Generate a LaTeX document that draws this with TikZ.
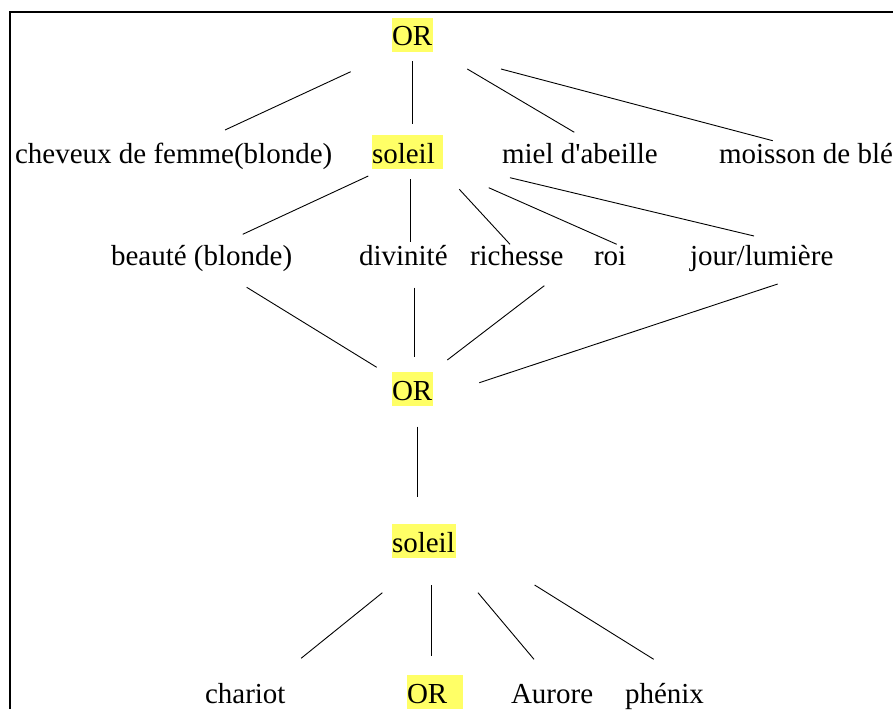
\documentclass[tikz,border=0pt]{standalone}
\usepackage{fontspec}
\setmainfont{Liberation Serif}
\definecolor{hlyellow}{RGB}{255,255,102}
\newcommand{\straightapos}{\XeTeXglyph\XeTeXcharglyph"27\relax}
\begin{document}
\begin{tikzpicture}[x=1pt,y=-1pt,
  every node/.style={inner sep=0pt,outer sep=0pt,anchor=base west,font=\fontsize{29}{34}\selectfont},
  hl/.style={fill=hlyellow,text height=28pt,text depth=6pt,align=left},
  link/.style={line width=0.9pt,black},
  frame/.style={line width=2pt,black}]
\useasboundingbox (0,0) rectangle (893,709);
\fill[white] (0,0) rectangle (893,709);
\draw[frame] (9.5,709) -- (9.5,12.5) -- (893,12.5);
% row 1
\node[hl,text width=41pt] (or1) at (392,45.7) {OR};
% row 2
\node (cheveux) at (15,163) {cheveux de femme(blonde)};
\node[hl,text width=71pt] (sol1) at (372,163) {soleil};
\node (miel) at (502,163) {miel d\straightapos abeille};
\node (moisson) at (719,163) {moisson de blé};
% row 3
\node (beaute) at (111,265) {beauté (blonde)};
\node (divinite) at (359,265) {divinité};
\node (richesse) at (470,265) {richesse};
\node (roi) at (594,265) {roi};
\node (jour) at (690,265) {jour/lumière};
% row 4
\node[hl,text width=41pt] (or2) at (392,400) {OR};
% row 5
\node[hl,text width=64pt] (sol2) at (392,552) {soleil};
% row 6
\node (chariot) at (205,703) {chariot};
\node[hl,text width=56pt] (or3) at (407,703) {OR};
\node (aurore) at (511,703) {Aurore};
\node (phenix) at (625,703) {phénix};
% connector end points
\coordinate (or1-a) at (350.7,71.7);  \coordinate (cheveux-a) at (225,130);
\coordinate (or1-b) at (412.3,61);    \coordinate (sol1-b) at (412.3,124.3);
\coordinate (or1-c) at (467.3,69);    \coordinate (miel-c) at (574.3,132.3);
\coordinate (or1-d) at (501,69);      \coordinate (moisson-d) at (772.7,140.7);
\coordinate (sol1-e) at (368.3,176);  \coordinate (beaute-e) at (242.7,234.3);
\coordinate (sol1-f) at (410,179);    \coordinate (divinite-f) at (410,241.7);
\coordinate (sol1-g) at (459.3,189.3);\coordinate (richesse-g) at (510,244.3);
\coordinate (sol1-h) at (488.7,187.7);\coordinate (roi-h) at (616.7,244.3);
\coordinate (sol1-i) at (510,177.7);  \coordinate (jour-i) at (754,236);
\coordinate (beaute-j) at (246.7,287.3);  \coordinate (or2-j) at (376.7,367.3);
\coordinate (divinite-k) at (414.3,287.7);\coordinate (or2-k) at (414.3,357.3);
\coordinate (richesse-l) at (544.3,285.7);\coordinate (or2-l) at (447.3,360);
\coordinate (jour-m) at (777.7,284);      \coordinate (or2-m) at (479.3,382.7);
\coordinate (or2-n) at (417.7,426.7);     \coordinate (sol2-n) at (417.7,496.7);
\coordinate (sol2-o) at (382.4,592.7);    \coordinate (chariot-o) at (301.1,658.3);
\coordinate (sol2-p) at (431,585);        \coordinate (or3-p) at (431,655.7);
\coordinate (sol2-q) at (478,592.7);      \coordinate (aurore-q) at (534,659.3);
\coordinate (sol2-r) at (534.6,585);      \coordinate (phenix-r) at (653.7,659.3);
% connectors
\draw[link] (or1-a) -- (cheveux-a);
\draw[link] (or1-b) -- (sol1-b);
\draw[link] (or1-c) -- (miel-c);
\draw[link] (or1-d) -- (moisson-d);
\draw[link] (sol1-e) -- (beaute-e);
\draw[link] (sol1-f) -- (divinite-f);
\draw[link] (sol1-g) -- (richesse-g);
\draw[link] (sol1-h) -- (roi-h);
\draw[link] (sol1-i) -- (jour-i);
\draw[link] (beaute-j) -- (or2-j);
\draw[link] (divinite-k) -- (or2-k);
\draw[link] (richesse-l) -- (or2-l);
\draw[link] (jour-m) -- (or2-m);
\draw[link] (or2-n) -- (sol2-n);
\draw[link] (sol2-o) -- (chariot-o);
\draw[link] (sol2-p) -- (or3-p);
\draw[link] (sol2-q) -- (aurore-q);
\draw[link] (sol2-r) -- (phenix-r);
\end{tikzpicture}
\end{document}
